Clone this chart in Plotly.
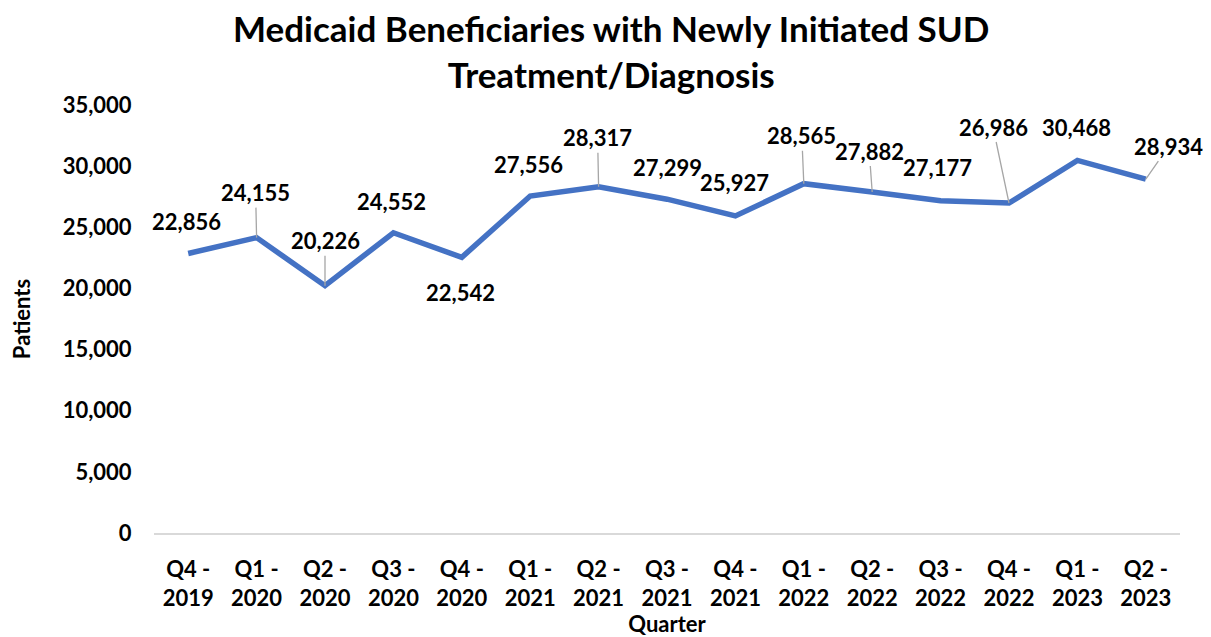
import plotly.graph_objects as go

quarters = ["Q4 -<br>2019", "Q1 -<br>2020", "Q2 -<br>2020", "Q3 -<br>2020", "Q4 -<br>2020",
            "Q1 -<br>2021", "Q2 -<br>2021", "Q3 -<br>2021", "Q4 -<br>2021", "Q1 -<br>2022",
            "Q2 -<br>2022", "Q3 -<br>2022", "Q4 -<br>2022", "Q1 -<br>2023", "Q2 -<br>2023"]
patients = [22856, 24155, 20226, 24552, 22542, 27556, 28317, 27299, 25927, 28565,
            27882, 27177, 26986, 30468, 28934]

# label offsets (pixels) and whether a leader line is drawn
label_dx = [-2, -1, 0, -2, -1, -2, -1, 0, -1, -2, -3, -3, -16, -1, 23]
label_dy = [-32, -45, -45, -31, 35, -32, -49, -32, -33, -48, -41, -33, -76, -33, -33]
leader = [False, True, True, False, False, False, True, False, False, True,
          True, False, True, False, True]

font_fam = "Lato, 'Open Sans', sans-serif"
fig = go.Figure()
fig.add_trace(go.Scatter(x=quarters, y=patients, mode="lines",
                         line=dict(color="#4472C4", width=5.5), hoverinfo="skip"))

for q, v, dx, dy, ld in zip(quarters, patients, label_dx, label_dy, leader):
    txt = f"{v:,}"
    if ld:
        fig.add_annotation(x=q, y=v, text=txt, showarrow=True, ax=dx, ay=dy,
                           arrowhead=0, arrowwidth=1.3, arrowcolor="#a6a6a6", standoff=0,
                           font=dict(size=22, color="black", family=font_fam, weight="bold"))
    else:
        fig.add_annotation(x=q, y=v, text=txt, showarrow=False, xshift=dx, yshift=-dy,
                           font=dict(size=22, color="black", family=font_fam, weight="bold"))

# chart title
fig.add_annotation(text="<b>Medicaid Beneficiaries with Newly Initiated SUD<br>Treatment/Diagnosis</b>",
                   xref="paper", yref="paper", x=0.445, y=1.126, xanchor="center", yanchor="middle",
                   showarrow=False, font=dict(size=35, family=font_fam, color="black"))

fig.update_layout(
    width=1203, height=629,
    margin=dict(l=146, r=31, t=97, b=104),
    paper_bgcolor="white", plot_bgcolor="white",
    showlegend=False,
    font=dict(family=font_fam, color="black", size=22),
    xaxis=dict(showgrid=False, showline=True, linecolor="#d9d9d9", linewidth=1.5,
               ticks="outside", ticklen=16, tickcolor="rgba(0,0,0,0)", automargin=False,
               tickfont=dict(size=22, family=font_fam, color="black", weight="bold"),
               title=dict(text="<b>Quarter</b>", standoff=0, font=dict(size=22)),
               range=[-0.5, 14.5]),
    yaxis=dict(range=[0, 35000], dtick=5000, showgrid=False, zeroline=False, showline=False,
               tickformat=",", ticks="outside", ticklen=17, tickcolor="rgba(0,0,0,0)",
               automargin=False,
               tickfont=dict(size=22, family=font_fam, color="black", weight="bold"),
               title=dict(text="<b>Patients</b>", standoff=30, font=dict(size=22))),
)

fig.write_html("out.html")
